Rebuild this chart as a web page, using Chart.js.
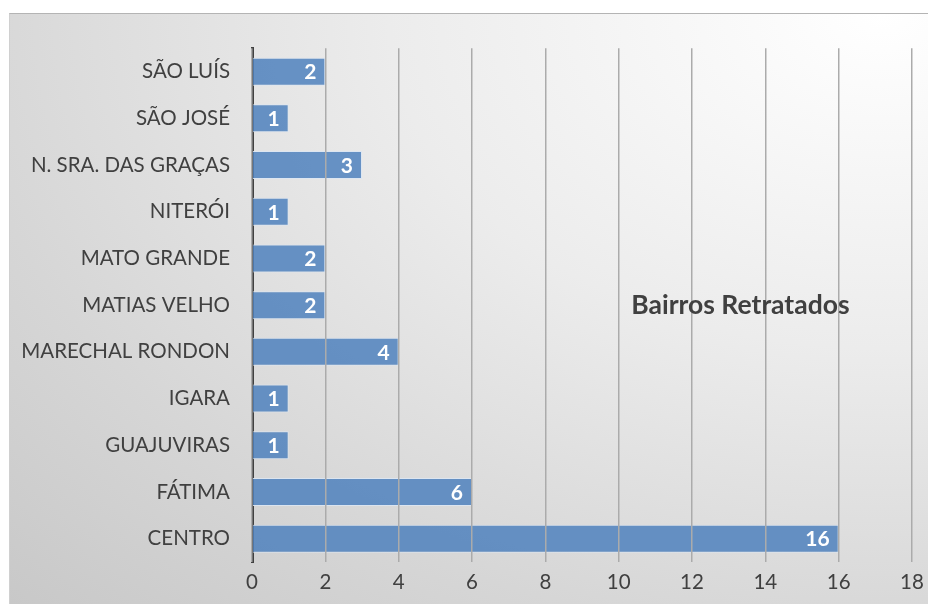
<!DOCTYPE html>
<html>
<head>
<meta charset="utf-8">
<script src="https://cdn.jsdelivr.net/npm/chart.js@4/dist/chart.umd.min.js"></script>
<style>
  html, body { margin: 0; padding: 0; background: #fff; }
  #wrap {
    position: absolute; left: 9px; top: 13px; width: 919px; height: 591px;
    border-top: 1px solid #b4b4b4; border-left: 1px solid #d0d0d0;
    box-sizing: border-box;
    background: radial-gradient(ellipse at 95% 0%, #ffffff 0%, #ececec 40%, #d6d6d6 75%, #c8c8c8 100%);
  }
  #chart { display: block; }
</style>
</head>
<body>
<div id="wrap"><canvas id="chart" width="917" height="590"></canvas></div>
<script>
// bairros, from top to bottom
const bairros = ['SÃO LUÍS', 'SÃO JOSÉ', 'N. SRA. DAS GRAÇAS', 'NITERÓI', 'MATO GRANDE',
  'MATIAS VELHO', 'MARECHAL RONDON', 'IGARA', 'GUAJUVIRAS', 'FÁTIMA', 'CENTRO'];
const retratos = [2, 1, 3, 1, 2, 2, 4, 1, 1, 6, 16];
const xMax = 18;
const xStep = 2;
const chartTitle = 'Bairros Retratados';

//white numbers at the end of each bar
const barLabels = {
  id: 'barLabels',
  afterDatasetsDraw(chart) {
    const ctx = chart.ctx;
    const meta = chart.getDatasetMeta(0);
    ctx.save();
    ctx.font = 'bold 21px Lato';
    ctx.fillStyle = '#ffffff';
    ctx.textAlign = 'right';
    ctx.textBaseline = 'middle';
    meta.data.forEach((bar, i) => {
      ctx.fillText(String(retratos[i]), bar.x - 9, bar.y + 1);
    });
    ctx.restore();
  }
};

//title sits inside the plot, right side
const innerTitle = {
  id: 'innerTitle',
  afterDraw(chart) {
    const { ctx, chartArea } = chart;
    ctx.save();
    ctx.font = 'bold 26.5px Lato';
    ctx.fillStyle = '#404040';
    ctx.textAlign = 'center';
    ctx.textBaseline = 'middle';
    ctx.fillText(chartTitle, chartArea.left + chartArea.width * 0.74, chartArea.top + chartArea.height * 0.5);
    ctx.restore();
  }
};

Chart.defaults.font.family = 'Lato';
Chart.defaults.color = '#404040';

const ctx = document.getElementById('chart');
new Chart(ctx, {
  type: 'bar',
  data: {
    labels: bairros,
    datasets: [{
      data: retratos,
      backgroundColor: 'rgba(79, 129, 189, 0.85)',
      borderColor: 'rgba(220, 230, 242, 0.9)',
      borderWidth: 1,
      barPercentage: 0.6,
      categoryPercentage: 1
    }]
  },
  options: {
    indexAxis: 'y',
    responsive: false,
    animation: false,
    layout: { padding: { top: 33, right: 15, left: 0, bottom: 0 } },
    plugins: {
      legend: { display: false },
      tooltip: { enabled: false }
    },
    scales: {
      x: {
        min: 0,
        max: xMax,
        ticks: { stepSize: xStep, font: { size: 20.5 }, color: '#404040', padding: 8 },
        grid: { color: '#ababab', lineWidth: 1.5, drawTicks: false, z: 1 },
        border: { display: false },
        afterFit(scale) { scale.height = 42; scale.paddingRight = 0; }
      },
      y: {
        ticks: { font: { size: 20.5 }, color: '#404040', padding: 22 },
        grid: { display: false, drawTicks: false },
        border: { color: '#404040', width: 3 },
        afterFit(scale) { scale.width = 242; }
      }
    }
  },
  plugins: [barLabels, innerTitle]
});
</script>
</body>
</html>
